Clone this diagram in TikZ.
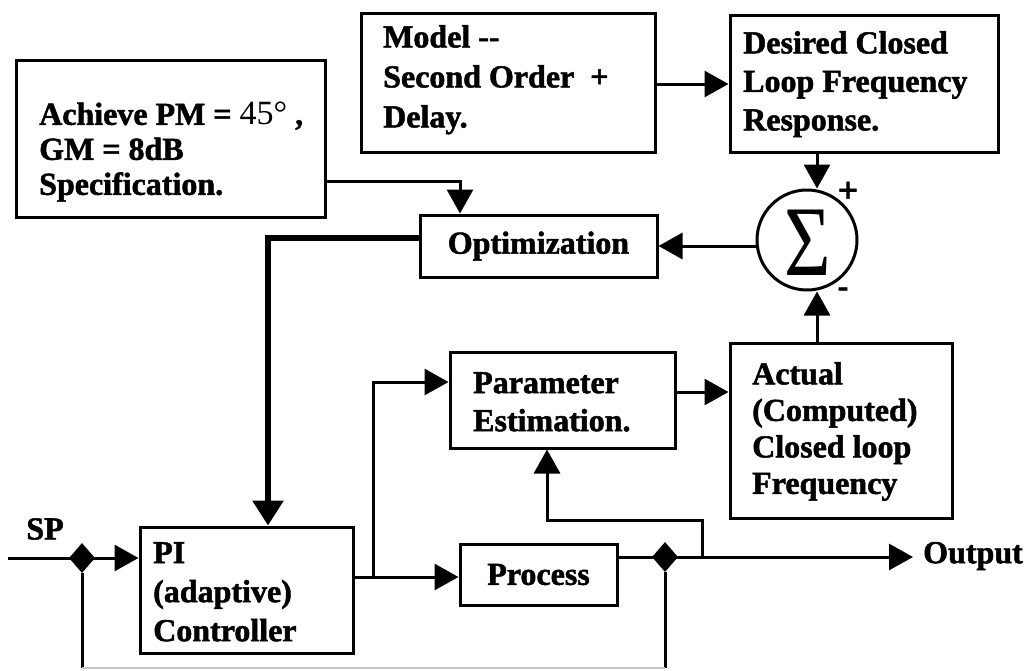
\documentclass[tikz,border=0pt]{standalone}
\usepackage{fontspec}
\setmainfont{Liberation Serif}[BoldFeatures={FakeBold=1.6}]
\usepackage{graphicx}
\usetikzlibrary{arrows.meta,shapes.geometric,calc}

\begin{document}
\begin{tikzpicture}[x=1pt,y=-1pt,
  box/.style={draw,line width=3pt,rectangle,inner sep=0pt,
    font=\bfseries\fontsize{32}{37}\selectfont},
  txt/.style={anchor=north west,align=left,inner sep=0pt,
    font=\bfseries\fontsize{32}{#1}\selectfont},
  wire/.style={line width=3pt},
  arr/.style={wire,-{Triangle[length=24pt,width=26pt]}},
  bus/.style={line width=6pt,-{Triangle[length=25pt,width=30pt]}},
  junc/.style={diamond,fill=black,inner sep=0pt,minimum width=26pt,minimum height=30pt},
  lbl/.style={inner sep=0pt,font=\bfseries\fontsize{32}{37}\selectfont}]
\useasboundingbox (0,0) rectangle (1025,670);

% blocks
\node[box,minimum width=309pt,minimum height=157pt] (spec) at (170.5,138.5) {};
\node[txt=35] (spectxt) at (39,102) {Achieve PM = {\mdseries\fontsize{34}{35}\selectfont 45°} ,\\GM = 8dB\\Specification.};

\node[box,minimum width=294pt,minimum height=139pt] (model) at (508,82.5) {};
\node[txt=40] (modeltxt) at (383,25) {Model -{}-\\Second Order\ \ +\\Delay.};

\node[box,minimum width=268pt,minimum height=137pt] (desired) at (864,83.5) {};
\node[txt=38.5] (desiredtxt) at (743,31) {Desired Closed\\Loop Frequency\\Response.};

\node[box,minimum width=237pt,minimum height=62pt] (opt) at (538.5,246) {Optimization};

\node[draw,circle,line width=3pt,minimum size=100pt,inner sep=0pt] (sum) at (807,240) {};
\node (sigma) at (808,243) {\scalebox{1}[1.25]{\fontsize{80}{80}\selectfont Σ}};
\node[lbl,font=\bfseries\fontsize{36}{36}\selectfont] (plus) at (848,192) {+};
\node[lbl] (minus) at (843,292) {-};

\node[box,minimum width=225pt,minimum height=96pt] (param) at (562.5,400) {};
\node[txt=38] (paramtxt) at (473,372) {Parameter\\Estimation.};

\node[box,minimum width=222pt,minimum height=175pt] (actual) at (841,430.5) {};
\node[txt=36.5] (actualtxt) at (752,362) {Actual\\(Computed)\\Closed loop\\Frequency};

\node[box,minimum width=213pt,minimum height=126pt] (pi) at (246.5,590) {};
\node[txt=39] (pitxt) at (153,542) {PI\\(adaptive)\\Controller};

\node[box,minimum width=157pt,minimum height=61pt] (proc) at (538.5,574.5) {Process};

\node[lbl] (sp) at (45,529) {SP};
\node[lbl,anchor=west] (out) at (923,556) {Output};

% junctions and bend points
\node[junc] (j1) at (82,558) {};
\node[junc] (j2) at (665,557) {};
\coordinate (spin) at (8,558);
\coordinate (specout) at (325,181);
\coordinate (specbend) at (460,181);
\coordinate (busbend) at (268,238);
\coordinate (piout) at (353,577);
\coordinate (tap) at (373,577);
\coordinate (tapup) at (373,382);
\coordinate (procout) at (617,557);
\coordinate (outend) at (913,557);
\coordinate (fb) at (702,557);
\coordinate (fbup) at (702,520);
\coordinate (fbleft) at (547,520);
\coordinate (paramout) at (675,392);
\coordinate (sumtop) at (817,152);
\coordinate (sumbot) at (817,343);
\coordinate (j1low) at (82,668);
\coordinate (j2low) at (665,668);

% signal paths
\draw[arr] (model.east |- 0,84) -- (desired.west |- 0,84);
\draw[arr] (sumtop) -- (sumtop |- sum.north);
\draw[arr] (sum.west |- opt.east) -- (opt.east);
\draw[arr] (specout) -- (specbend) -- (specbend |- opt.north);
\draw[bus] (opt.west |- busbend) -- (busbend) -- (busbend |- pi.north);
\draw[arr] (spin) -- (spin -| pi.west);
\draw[arr] (piout) -- (piout -| proc.west);
\draw[arr] (tap) -- (tapup) -- (tapup -| param.west);
\draw[arr] (procout) -- (outend);
\draw[arr] (fb) -- (fbup) -- (fbleft) -- (fbleft |- param.south);
\draw[arr] (paramout) -- (paramout -| actual.west);
\draw[arr] (sumbot) -- (sumbot |- sum.south);
\draw[wire] (j1) -- (j1low);
\draw[wire] (j2) -- (j2low);
\draw[line width=2pt,gray!45] (j1low) -- (j2low);
\end{tikzpicture}
\end{document}
